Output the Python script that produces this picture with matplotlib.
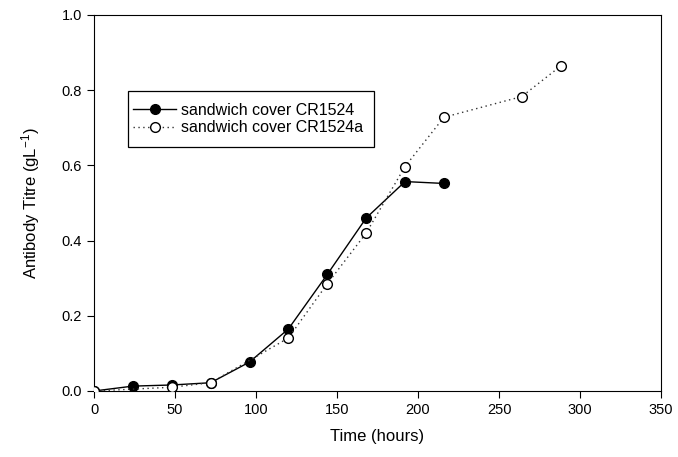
import matplotlib
matplotlib.use("Agg")
import matplotlib.pyplot as plt
from matplotlib.patches import Rectangle

plt.rcParams['font.family'] = ['Liberation Sans', 'DejaVu Sans']
plt.rcParams['mathtext.fontset'] = 'custom'
plt.rcParams['mathtext.rm'] = 'Liberation Sans'
plt.rcParams['mathtext.it'] = 'Liberation Sans'

# time (hours) and titre (g/L)
t_a = [0, 24, 48, 72, 96, 120, 144, 168, 192, 216]
y_a = [0.0, 0.013, 0.016, 0.022, 0.077, 0.165, 0.31, 0.46, 0.557, 0.552]
t_b = [0, 48, 72, 120, 144, 168, 192, 216, 264, 288]
y_b = [0.0, 0.01, 0.022, 0.141, 0.285, 0.42, 0.597, 0.728, 0.783, 0.864]

fig = plt.figure(figsize=(6.78, 4.57), dpi=100)
ax = fig.add_axes([94/678, 1-391/457, 567/678, 376/457])

ax.plot(t_a, y_a, '-', color='black', lw=1, marker='o', ms=7,
        mfc='black', mec='black', label='sandwich cover CR1524', zorder=2)
ax.plot(t_b, y_b, linestyle=(0, (1, 2.5)), color='#333333', lw=1, marker='o', ms=7,
        mfc='white', mec='black', mew=1, label='sandwich cover CR1524a', zorder=3)

ax.set_xlim(0, 350)
ax.set_ylim(0, 1.0)
ax.set_xticks(range(0, 351, 50))
ax.set_yticks([0.0, 0.2, 0.4, 0.6, 0.8, 1.0])
ax.set_yticklabels(['0.0', '0.2', '0.4', '0.6', '0.8', '1.0'])
ax.tick_params(direction='out', length=5, width=0.8, labelsize=10.5, colors='black')
for s in ax.spines.values():
    s.set_linewidth(0.8)

ax.set_xlabel('Time (hours)', fontsize=12, labelpad=9)
ax.set_ylabel(r'Antibody Titre (gL$^{\mathrm{-1}}$)', fontsize=12, labelpad=14)

# legend box drawn separately (it has extra room below the entries)
ax.add_patch(Rectangle((0.06, 0.649), 0.434, 0.149, transform=ax.transAxes,
                       facecolor='white', edgecolor='black', lw=0.9, zorder=4))
leg = ax.legend(loc='upper left', bbox_to_anchor=(0.055, 0.787), fontsize=11.5,
                frameon=False, borderpad=0, handlelength=2.7, handletextpad=0.3,
                labelspacing=0.15)
leg.set_zorder(5)

fig.savefig('out.png', dpi=100)
